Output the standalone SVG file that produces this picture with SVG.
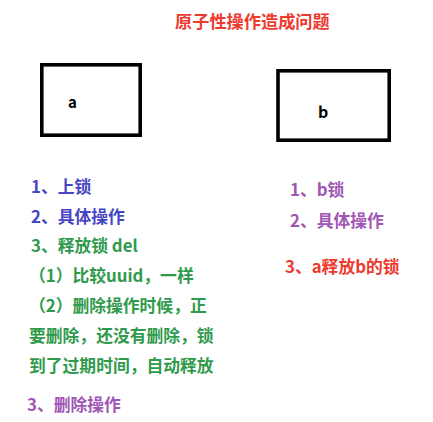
<svg xmlns="http://www.w3.org/2000/svg" width="433" height="422" viewBox="0 0 433 422">
<style>
text{font-family:"Noto Sans CJK SC","Noto Sans",sans-serif;font-weight:bold;}
.t{font-size:16.8px;}
.blue{fill:#4646c4;}
.green{fill:#2f9a4c;}
.purple{fill:#a056b4;}
.red{fill:#ee3a2e;}
.box{fill:#fff;stroke:#000;stroke-width:3.6;}
</style>
<rect width="433" height="422" fill="#fff"/>
<text x="175" y="28" class="red" font-size="17.2">原子性操作造成问题</text>
<g id="a">
<rect class="box" x="41.8" y="64.8" width="98.4" height="70.4"/>
<text x="68" y="108" font-size="15">a</text>
</g>
<g id="b">
<rect class="box" x="278" y="70.8" width="111.2" height="69.4"/>
<text x="318" y="118" font-size="16">b</text>
</g>
<g id="left">
<text class="t blue" x="31" y="193">1、上锁</text>
<text class="t blue" x="31" y="223">2、具体操作</text>
<text class="t green" x="31" y="252">3、释放锁 del</text>
<text class="t green" x="29" y="282">（1）比较uuid，一样</text>
<text class="t green" x="29" y="312">（2）删除操作时候，正</text>
<text class="t green" x="29" y="342">要删除，还没有删除，锁</text>
<text class="t green" x="29" y="372">到了过期时间，自动释放</text>
<text class="t purple" x="27" y="411">3、删除操作</text>
</g>
<g id="right">
<text class="t purple" x="290" y="196">1、b锁</text>
<text class="t purple" x="290" y="227">2、具体操作</text>
<text class="t red" x="285" y="273">3、a释放b的锁</text>
</g>
</svg>
